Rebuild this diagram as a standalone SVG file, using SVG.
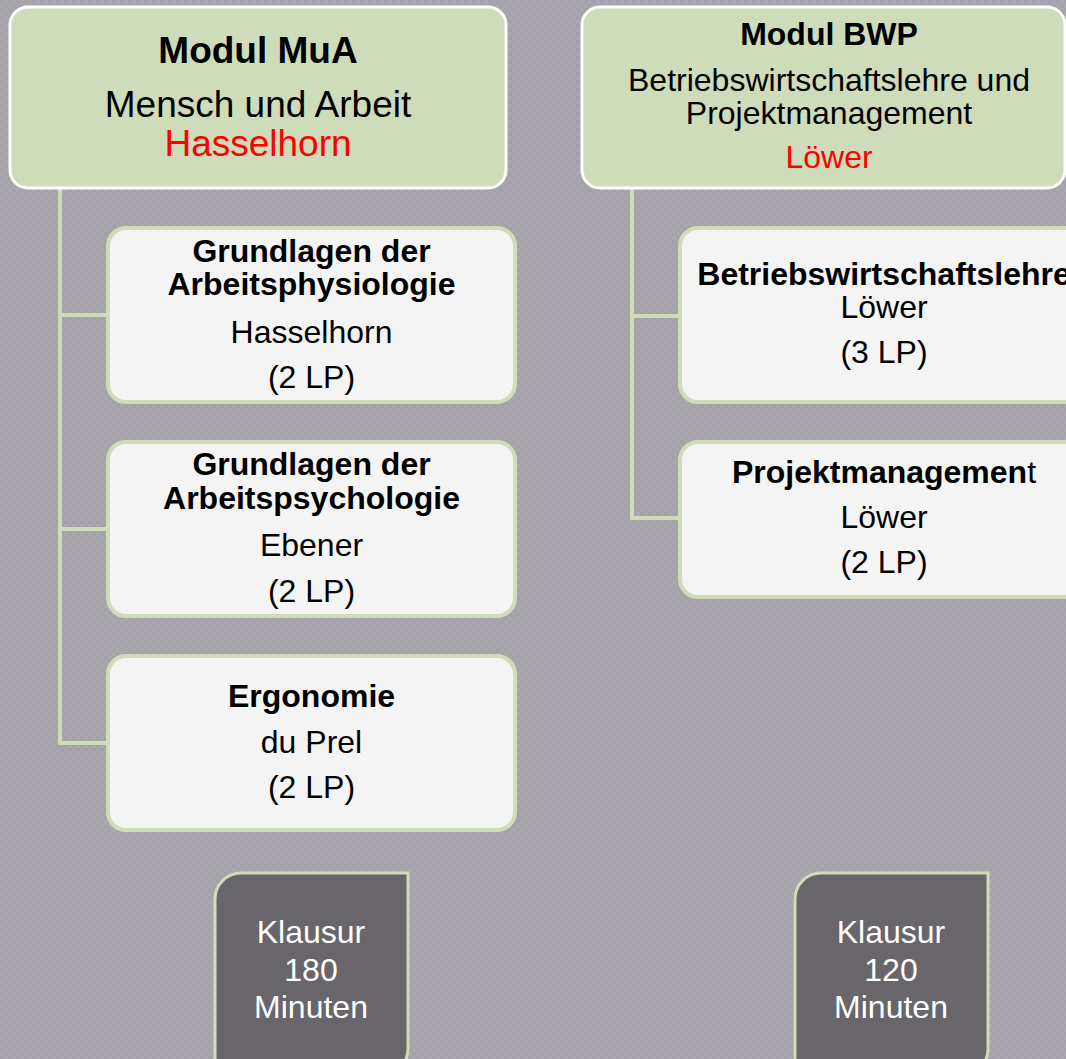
<svg xmlns="http://www.w3.org/2000/svg" width="1066" height="1059" viewBox="0 0 1066 1059">
<defs>
<pattern id="bg" width="8" height="8" patternUnits="userSpaceOnUse">
<rect width="8" height="8" fill="#a9a6ad"/>
<rect width="4" height="4" fill="#a4a1a8"/>
<rect x="4" y="4" width="4" height="4" fill="#a4a1a8"/>
</pattern>
<style>
.mod{fill:#cfdcba;stroke:#ffffff;stroke-width:3}
.sub{fill:#f4f4f4;stroke:#cfdcba;stroke-width:4}
.ex{fill:#68656b;stroke:#cfdcba;stroke-width:3}
.con{fill:none;stroke:#cfdcba;stroke-width:4}
text{font-family:"Liberation Sans",Arial,sans-serif;text-anchor:middle;fill:#000}
.b{font-weight:bold}
.red{fill:#ff0000}
.w{fill:#ffffff}
</style>
</defs>
<rect width="1066" height="1059" fill="url(#bg)"/>
<g id="connectors">
<path class="con" d="M60 189 V743 H108 M60 315 H108 M60 529 H108"/>
<path class="con" d="M632 189 V518 H680 M632 316 H680"/>
</g>
<g id="modMuA">
<rect class="mod" x="10" y="7" width="496" height="181" rx="18"/>
<text x="258" y="63" class="b" font-size="37">Modul MuA</text>
<text x="258" y="117" font-size="37">Mensch und Arbeit</text>
<text x="258" y="156" font-size="37" class="red">Hasselhorn</text>
</g>
<g id="modBWP">
<rect class="mod" x="582" y="7" width="483" height="181" rx="18"/>
<text x="829" y="45" class="b" font-size="32">Modul BWP</text>
<text x="829" y="91" font-size="32">Betriebswirtschaftslehre und</text>
<text x="829" y="124" font-size="32">Projektmanagement</text>
<text x="829" y="168" font-size="32" class="red">Löwer</text>
</g>
<g id="physio">
<rect class="sub" x="108" y="228" width="407" height="174" rx="18"/>
<text x="311.5" y="262" class="b" font-size="32">Grundlagen der</text>
<text x="311.5" y="295" class="b" font-size="32">Arbeitsphysiologie</text>
<text x="311.5" y="343" font-size="32">Hasselhorn</text>
<text x="311.5" y="388" font-size="32">(2 LP)</text>
</g>
<g id="psycho">
<rect class="sub" x="108" y="442" width="407" height="174" rx="18"/>
<text x="311.5" y="475" class="b" font-size="32">Grundlagen der</text>
<text x="311.5" y="509" class="b" font-size="32">Arbeitspsychologie</text>
<text x="311.5" y="556" font-size="32">Ebener</text>
<text x="311.5" y="602" font-size="32">(2 LP)</text>
</g>
<g id="ergo">
<rect class="sub" x="108" y="656" width="407" height="174" rx="18"/>
<text x="311.5" y="707" class="b" font-size="32">Ergonomie</text>
<text x="311.5" y="753" font-size="32">du Prel</text>
<text x="311.5" y="798" font-size="32">(2 LP)</text>
</g>
<g id="bwl">
<rect class="sub" x="680" y="228" width="408" height="174" rx="18"/>
<text x="884" y="285" class="b" font-size="32">Betriebswirtschaftslehre</text>
<text x="884" y="318" font-size="32">Löwer</text>
<text x="884" y="363" font-size="32">(3 LP)</text>
</g>
<g id="pm">
<rect class="sub" x="680" y="442" width="408" height="155" rx="18"/>
<text x="884" y="483" font-size="32"><tspan class="b">Projektmanagemen</tspan>t</text>
<text x="884" y="528" font-size="32">Löwer</text>
<text x="884" y="573" font-size="32">(2 LP)</text>
</g>
<g id="exam1">
<path class="ex" d="M215 1075 V899 A26 26 0 0 1 241 873 H408 V1049 A26 26 0 0 1 382 1075 Z"/>
<text x="311" y="943" font-size="32" class="w">Klausur</text>
<text x="311" y="981" font-size="32" class="w">180</text>
<text x="311" y="1018" font-size="32" class="w">Minuten</text>
</g>
<g id="exam2">
<path class="ex" d="M795 1075 V899 A26 26 0 0 1 821 873 H988 V1049 A26 26 0 0 1 962 1075 Z"/>
<text x="891" y="943" font-size="32" class="w">Klausur</text>
<text x="891" y="981" font-size="32" class="w">120</text>
<text x="891" y="1018" font-size="32" class="w">Minuten</text>
</g>
</svg>
